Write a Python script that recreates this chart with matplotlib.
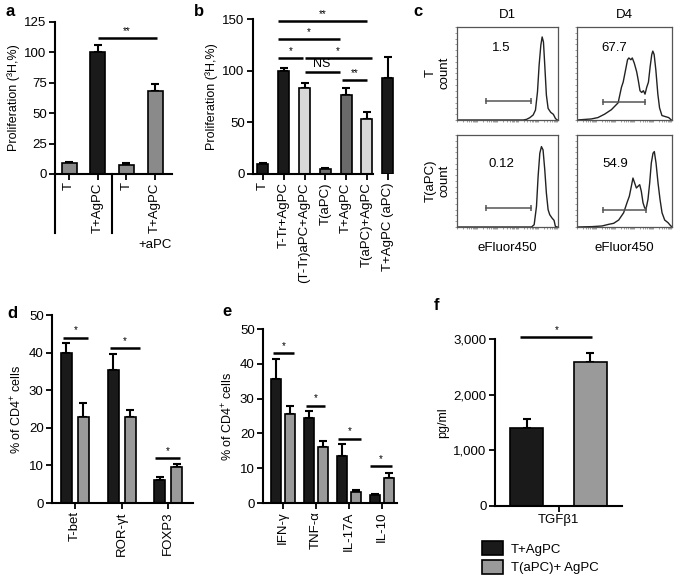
import matplotlib
matplotlib.use('Agg')
import matplotlib.pyplot as plt
import numpy as np
from matplotlib.patches import Patch
from matplotlib.transforms import blended_transform_factory as blend

plt.rcParams['font.family'] = ['Liberation Sans', 'DejaVu Sans']
plt.rcParams['mathtext.fontset'] = 'custom'
plt.rcParams['mathtext.rm'] = 'Liberation Sans'
plt.rcParams['mathtext.it'] = 'Liberation Sans:italic'
plt.rcParams['mathtext.bf'] = 'Liberation Sans:bold'

# ---------------- data ----------------
# panel a
a_labels = ['T', 'T+AgPC', 'T', 'T+AgPC']
a_vals = [9, 100, 7, 68]
a_err = [1, 6, 2, 6]
a_colors = ['#8a8a8a', '#1a1a1a', '#8a8a8a', '#8a8a8a']
a_sig = [(1.0, 3.05, 111.5, '**')]

# panel b
b_labels = ['T', 'T-Tr+AgPC', '(T-Tr)aPC+AgPC', 'T(aPC)', 'T+AgPC',
            'T(aPC)+AgPC', 'T+AgPC (aPC)']
b_vals = [10, 100, 83, 5, 76, 53, 93]
b_err = [1, 3, 5, 1, 7, 7, 20]
b_colors = ['#1a1a1a', '#1a1a1a', '#d8d8d8', '#707070', '#6a6a6a',
            '#d8d8d8', '#1a1a1a']
b_sig = [(0.72, 5.0, 148, '**'), (0.72, 3.7, 130.5, '*'),
         (0.72, 1.92, 112, '*'), (2.0, 5.24, 112, '*'),
         (2.0, 3.7, 99, 'NS'), (3.8, 5.0, 91, '**')]

# panel c histograms (x, y in % of plot box)
c_tl_x = [0, 65.6, 68.9, 72.1, 75.4, 77.7, 79.7, 81.3, 83.0, 84.3, 85.6, 86.9,
          88.5, 90.2, 92.8, 95.4, 97.4, 99.0, 100]
c_tl_y = [0, 0, 0.7, 2.5, 5.4, 10.7, 30.4, 58.9, 80.4, 89.3, 83.9, 58.9,
          26.8, 12.5, 8.2, 6.1, 1.8, 0, 0]
c_tr_x = [0, 14.9, 22.0, 29.1, 36.2, 43.3, 46.8, 48.6, 51.1, 53.2, 54.6, 56.7,
          58.2, 60.3, 62.8, 64.5, 66.3, 68.1, 69.9, 71.6, 73.4, 75.2, 77.0,
          78.7, 79.8, 81.2, 83.0, 85.1, 86.9, 89.4, 92.9, 96.5, 99.3]
c_tr_y = [0, 1.1, 2.6, 6.3, 11.1, 18.5, 35.2, 40.7, 53.7, 64.8, 66.7, 64.8,
          66.7, 61.1, 51.9, 42.6, 31.5, 29.6, 31.5, 27.8, 35.2, 40.7, 57.4,
          70.4, 74.1, 70.4, 53.7, 27.8, 13.0, 4.8, 3.7, 2.6, 0]
c_bl_x = [0, 73.8, 76.4, 78.7, 80.3, 82.0, 83.6, 85.2, 86.9, 88.5, 90.2, 91.8,
          94.1, 96.1, 97.4, 99.3]
c_bl_y = [0, 0, 2.5, 22.4, 54.9, 80.1, 87.4, 83.8, 62.1, 36.8, 18.8, 13.4,
          9.7, 7.2, 0.7, 0]
c_br_x = [0, 15.8, 26.3, 33.3, 38.6, 43.9, 49.1, 52.6, 55.1, 57.2, 58.9, 60.7,
          62.5, 64.2, 66.0, 67.7, 69.5, 71.2, 72.6, 74.7, 76.5, 78.2, 80.0,
          81.4, 83.2, 85.3, 87.4, 89.5, 92.3, 95.8, 98.2, 100]
c_br_y = [0, 0.4, 1.1, 2.9, 4.0, 7.6, 15.5, 26.3, 33.5, 44.2, 53.2, 47.8,
          42.4, 44.2, 46.0, 38.8, 26.3, 20.9, 19.1, 29.9, 47.8, 69.4, 80.2,
          82.0, 69.4, 47.8, 29.9, 15.5, 7.6, 4.7, 1.8, 0]
c_values = ['1.5', '67.7', '0.12', '54.9']
c_gates = [(28.5, 73, 20.4), (27, 72, 19.6), (28.5, 73, 20.6), (27, 72.6, 18.3)]
c_text_pos = [(44, 77), (39, 77), (44, 68), (40, 68)]

# panel d
d_labels = ['T-bet', 'ROR-γt', 'FOXP3']
d_black = [40, 35.5, 6]
d_black_err = [2.5, 4, 1]
d_gray = [23, 22.8, 9.5]
d_gray_err = [3.5, 2, 0.8]
d_sig = [(-0.26, 0.28, 44), (0.75, 1.39, 41.2), (1.71, 2.25, 12)]

# panel e
e_labels = ['IFN-γ', 'TNF-α', 'IL-17A', 'IL-10']
e_black = [35.5, 24.5, 13.5, 2.2]
e_black_err = [6, 2, 3.5, 0.3]
e_gray = [25.5, 16, 3.2, 7.3]
e_gray_err = [2.5, 1.8, 0.5, 1.2]
e_sig = [(-0.3, 0.33, 43), (0.7, 1.27, 28), (1.67, 2.36, 18.5), (2.64, 3.3, 10.5)]

# panel f
f_labels = ['T+AgPC', 'T(aPC)+ AgPC']
f_vals = [1400, 2580]
f_err = [170, 160]
f_sig = [(-0.1, 1.03, 3030)]

BLACK = '#1a1a1a'
GRAY = '#9a9a9a'
FS = 9.5

# ---------------- figure ----------------
W, H = 675, 582
fig = plt.figure(figsize=(W / 100, H / 100), dpi=100)


def add_ax(l, t, r, b):
    return fig.add_axes([l / W, 1 - b / H, (r - l) / W, (b - t) / H])


def style(ax):
    for s in ['top', 'right']:
        ax.spines[s].set_visible(False)
    for s in ['left', 'bottom']:
        ax.spines[s].set_linewidth(1.5)
    ax.tick_params(width=1.3, length=4, labelsize=FS, pad=2)


def sig(ax, x1, x2, y, txt, fs=7):
    ax.plot([x1, x2], [y, y], color='black', lw=1.8, clip_on=False,
            solid_capstyle='butt')
    ax.annotate(txt, ((x1 + x2) / 2, y), xytext=(0, 1.5),
                textcoords='offset points', ha='center', va='bottom',
                fontsize=fs, annotation_clip=False)


def ebar(ax, x, v, e):
    ax.errorbar(x, v, yerr=[np.zeros(len(e)), e], fmt='none', ecolor='black',
                elinewidth=1.5, capsize=3, capthick=1.5, zorder=1)


# ----- panel a -----
ax = add_ax(55, 22, 172, 174)
style(ax)
xa = np.arange(len(a_vals))
ebar(ax, xa, a_vals, a_err)
ax.bar(xa, a_vals, width=0.52, color=a_colors, edgecolor='black', lw=1.2,
       zorder=2)
ax.set_xlim(-0.49, 3.59)
ax.set_ylim(0, 125)
ax.set_yticks(np.arange(0, 126, 25))
ax.set_xticks(xa)
ax.set_xticklabels(a_labels, rotation=90, va='top')
ax.set_ylabel('Proliferation (³H,%)', fontsize=9, labelpad=3)
for x1, x2, y, t in a_sig:
    sig(ax, x1, x2, y, t)
tr = blend(ax.transData, ax.transAxes)
ax.plot([-0.49, -0.49], [0, -0.385], transform=tr, color='black', lw=1.5,
        clip_on=False)
ax.plot([1.5, 1.5], [0, -0.385], transform=tr, color='black', lw=1.5,
        clip_on=False)
ax.text(3, -0.465, '+aPC', transform=tr, ha='center', va='center', fontsize=FS)

# ----- panel b -----
ax = add_ax(253, 19, 398, 174)
style(ax)
xb = np.arange(len(b_vals))
ebar(ax, xb, b_vals, b_err)
ax.bar(xb, b_vals, width=0.53, color=b_colors, edgecolor='black', lw=1.2,
       zorder=2)
ax.set_xlim(-0.48, 6.5)
ax.set_ylim(0, 150)
ax.set_yticks([0, 50, 100, 150])
ax.set_xticks(xb)
ax.set_xticklabels(b_labels, rotation=90, va='top')
ax.spines['bottom'].set_bounds(-0.48, 5.3)
ax.set_ylabel('Proliferation (³H,%)', fontsize=9, labelpad=3)
for x1, x2, y, t in b_sig:
    sig(ax, x1, x2, y, t, fs=9 if t == 'NS' else 7)

# ----- panel c -----
boxes = [(457, 27, 558, 120), (577, 27, 672, 120),
         (457, 135, 558, 227), (577, 135, 672, 227)]
curves = [(c_tl_x, c_tl_y), (c_tr_x, c_tr_y), (c_bl_x, c_bl_y), (c_br_x, c_br_y)]
minor_x = [d * 20 + 20 * np.log10(k) for d in range(5) for k in range(1, 10)]
for i, (bx, (cx, cy)) in enumerate(zip(boxes, curves)):
    ax = add_ax(*bx)
    ax.plot(cx, cy, color='#222222', lw=1.0)
    g0, g1, gy = c_gates[i]
    ax.plot([g0, g1], [gy, gy], color='#555555', lw=1.1)
    ax.plot([g0, g1], [gy, gy], ls='none', marker='|', ms=5, mew=1.1,
            color='#555555')
    tx, ty = c_text_pos[i]
    ax.text(tx, ty, c_values[i], ha='center', va='center', fontsize=FS)
    ax.set_xlim(0, 100)
    ax.set_ylim(0, 100)
    for s in ax.spines.values():
        s.set_color('#555555')
        s.set_linewidth(0.9)
    ax.set_xticks(minor_x)
    ax.set_yticks(np.arange(0, 101, 6.25))
    ax.tick_params(length=1.5, width=0.5, color='#777777', labelbottom=False,
                   labelleft=False)
fig.text(507.5 / W, 1 - 15 / H, 'D1', ha='center', va='center', fontsize=FS)
fig.text(624.5 / W, 1 - 15 / H, 'D4', ha='center', va='center', fontsize=FS)
fig.text(431 / W, 1 - 73 / H, 'T', ha='center', va='center', fontsize=FS,
         rotation=90)
fig.text(445 / W, 1 - 73 / H, 'count', ha='center', va='center', fontsize=FS,
         rotation=90)
fig.text(431 / W, 1 - 181 / H, 'T(aPC)', ha='center', va='center', fontsize=FS,
         rotation=90)
fig.text(445 / W, 1 - 181 / H, 'count', ha='center', va='center', fontsize=FS,
         rotation=90)
fig.text(507.5 / W, 1 - 248 / H, 'eFluor450', ha='center', va='center',
         fontsize=FS)
fig.text(624.5 / W, 1 - 248 / H, 'eFluor450', ha='center', va='center',
         fontsize=FS)

# ----- panel d -----
ax = add_ax(52, 315, 193, 503)
style(ax)
xd = np.arange(len(d_labels))
ebar(ax, xd - 0.182, d_black, d_black_err)
ebar(ax, xd + 0.182, d_gray, d_gray_err)
ax.bar(xd - 0.182, d_black, width=0.235, color=BLACK, edgecolor='black',
       lw=1.2, zorder=2)
ax.bar(xd + 0.182, d_gray, width=0.235, color=GRAY, edgecolor='black',
       lw=1.2, zorder=2)
ax.set_xlim(-0.49, 2.53)
ax.set_ylim(0, 50)
ax.set_yticks(np.arange(0, 51, 10))
ax.set_xticks(xd)
ax.set_xticklabels(d_labels, rotation=90, va='top')
ax.set_ylabel('% of CD4$^{+}$ cells', fontsize=9, labelpad=3)
for x1, x2, y in d_sig:
    sig(ax, x1, x2, y, '*')

# ----- panel e -----
ax = add_ax(263, 329, 397, 503)
style(ax)
xe = np.arange(len(e_labels))
ebar(ax, xe - 0.21, e_black, e_black_err)
ebar(ax, xe + 0.21, e_gray, e_gray_err)
ax.bar(xe - 0.21, e_black, width=0.29, color=BLACK, edgecolor='black',
       lw=1.2, zorder=2)
ax.bar(xe + 0.21, e_gray, width=0.29, color=GRAY, edgecolor='black',
       lw=1.2, zorder=2)
ax.set_xlim(-0.6, 3.45)
ax.set_ylim(0, 50)
ax.set_yticks(np.arange(0, 51, 10))
ax.set_xticks(xe)
ax.set_xticklabels(e_labels, rotation=90, va='top')
ax.set_ylabel('% of CD4$^{+}$ cells', fontsize=9, labelpad=3)
for x1, x2, y in e_sig:
    sig(ax, x1, x2, y, '*')

# ----- panel f -----
ax = add_ax(495, 339, 622, 506)
style(ax)
ebar(ax, [0, 1], f_vals, f_err)
bars = ax.bar([0, 1], f_vals, width=0.52, color=[BLACK, GRAY],
              edgecolor='black', lw=1.2, zorder=2)
ax.set_xlim(-0.5, 1.5)
ax.set_ylim(0, 3000)
ax.set_yticks([0, 1000, 2000, 3000])
ax.set_yticklabels(['0', '1,000', '2,000', '3,000'])
ax.set_xticks([0.5])
ax.set_xticklabels(['TGFβ1'])
ax.set_ylabel('pg/ml', fontsize=9, labelpad=3)
for x1, x2, y in f_sig:
    sig(ax, x1, x2, y, '*')

handles = [Patch(facecolor=BLACK, edgecolor='black', lw=1.2),
           Patch(facecolor=GRAY, edgecolor='black', lw=1.2)]
fig.legend(handles, f_labels, loc='upper left',
           bbox_to_anchor=(482 / W, 1 - 541 / H), frameon=False, fontsize=FS,
           handlelength=1.6, handleheight=1.3, labelspacing=0.3,
           handletextpad=0.6, borderpad=0, borderaxespad=0)

# panel letters
for lab, x, y in [('a', 5, 12), ('b', 194, 12), ('c', 413, 12),
                  ('d', 7, 313), ('e', 222, 312), ('f', 434, 305)]:
    fig.text(x / W, 1 - y / H, lab, fontweight='bold', fontsize=12,
             ha='left', va='center')

fig.savefig('out.png', dpi=100)
